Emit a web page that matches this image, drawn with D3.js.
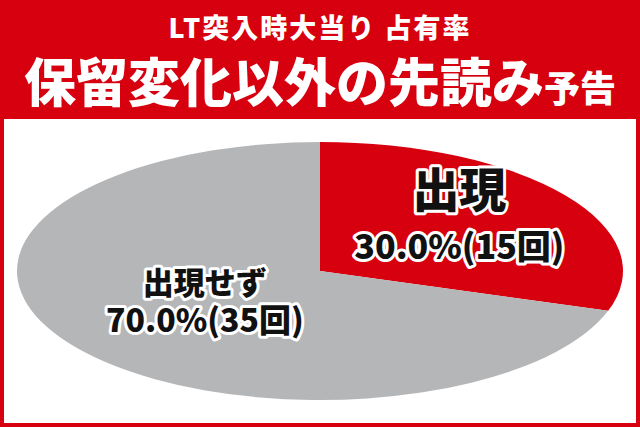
<!DOCTYPE html>
<html>
<head>
<meta charset="utf-8">
<script src="https://cdn.jsdelivr.net/npm/d3@7"></script>
<style>
  html, body { margin: 0; padding: 0; background: #fff; }
  svg { display: block; }
  text { font-family: "Noto Sans CJK JP", "Noto Sans", sans-serif; font-weight: 900; }
</style>
</head>
<body>
<div id="chart"></div>
<script>
// chart data
const categories = ["出現", "出現せず"];
const counts = [15, 35];
const sliceColors = ["#d7000f", "#b5b6b8"];
const titleLine1 = "LT突入時大当り 占有率";
const titleLine2 = "保留変化以外の先読み";
const titleSuffix = "予告";

const width = 640,
  height = 427;

const svg = d3
  .select("#chart")
  .append("svg")
  .attr("width", width)
  .attr("height", height);

// red background with white panel
svg.append("rect").attr("width", width).attr("height", height).attr("fill", "#d7000f");
svg
  .append("rect")
  .attr("x", 4)
  .attr("y", 119)
  .attr("width", 632)
  .attr("height", 304)
  .attr("fill", "#ffffff");

// header, both lines in one text element
const title = svg
  .append("text")
  .attr("text-anchor", "middle")
  .attr("fill", "#fff");
title
  .append("tspan")
  .attr("x", 320)
  .attr("y", 38)
  .style("font-size", "27px")
  .style("letter-spacing", "2px")
  .text(titleLine1);
title
  .append("tspan")
  .attr("x", 320)
  .attr("y", 102)
  .style("font-size", "52px")
  .text(titleLine2);
title.append("tspan").style("font-size", "36px").text(titleSuffix);

// pie drawn on a unit circle and squashed into an ellipse
const cx = 320,
  cy = 271,
  rx = 303,
  ry = 129;

const total = d3.sum(counts);
const data = categories.map((c, i) => ({ name: c, count: counts[i], color: sliceColors[i] }));

const pie = d3.pie().sort(null).value((d) => d.count);
const arc = d3.arc().innerRadius(0).outerRadius(1);
const arcs = pie(data);

const pieG = svg
  .append("g")
  .attr("transform", `translate(${cx},${cy}) scale(${rx},${ry})`);

pieG
  .selectAll("path")
  .data(arcs)
  .join("path")
  .attr("d", arc)
  .attr("fill", (d) => d.data.color);

// labels (position relative to the ellipse)
const labelPos = [
  { x: cx + rx * 0.46, y: cy - ry * 0.5, big: 47, small: 34, gap: 52 },
  { x: cx - rx * 0.38, y: cy + ry * 0.18, big: 31, small: 32, gap: 38 },
];

const fmt = d3.format(".1%");

arcs.forEach((d, i) => {
  const p = labelPos[i];
  // black text with a white outline painted under it
  const label = svg
    .append("text")
    .attr("text-anchor", "middle")
    .style("paint-order", "stroke fill")
    .attr("fill", "#111")
    .attr("stroke", "#fff")
    .attr("stroke-width", 6)
    .attr("stroke-linejoin", "round");
  label
    .append("tspan")
    .attr("x", p.x)
    .attr("y", p.y)
    .style("font-size", p.big + "px")
    .text(d.data.name);
  label
    .append("tspan")
    .attr("x", p.x)
    .attr("y", p.y + p.gap)
    .style("font-size", p.small + "px")
    .text(`${fmt(d.data.count / total)}(${d.data.count}回)`);
});
</script>
</body>
</html>
